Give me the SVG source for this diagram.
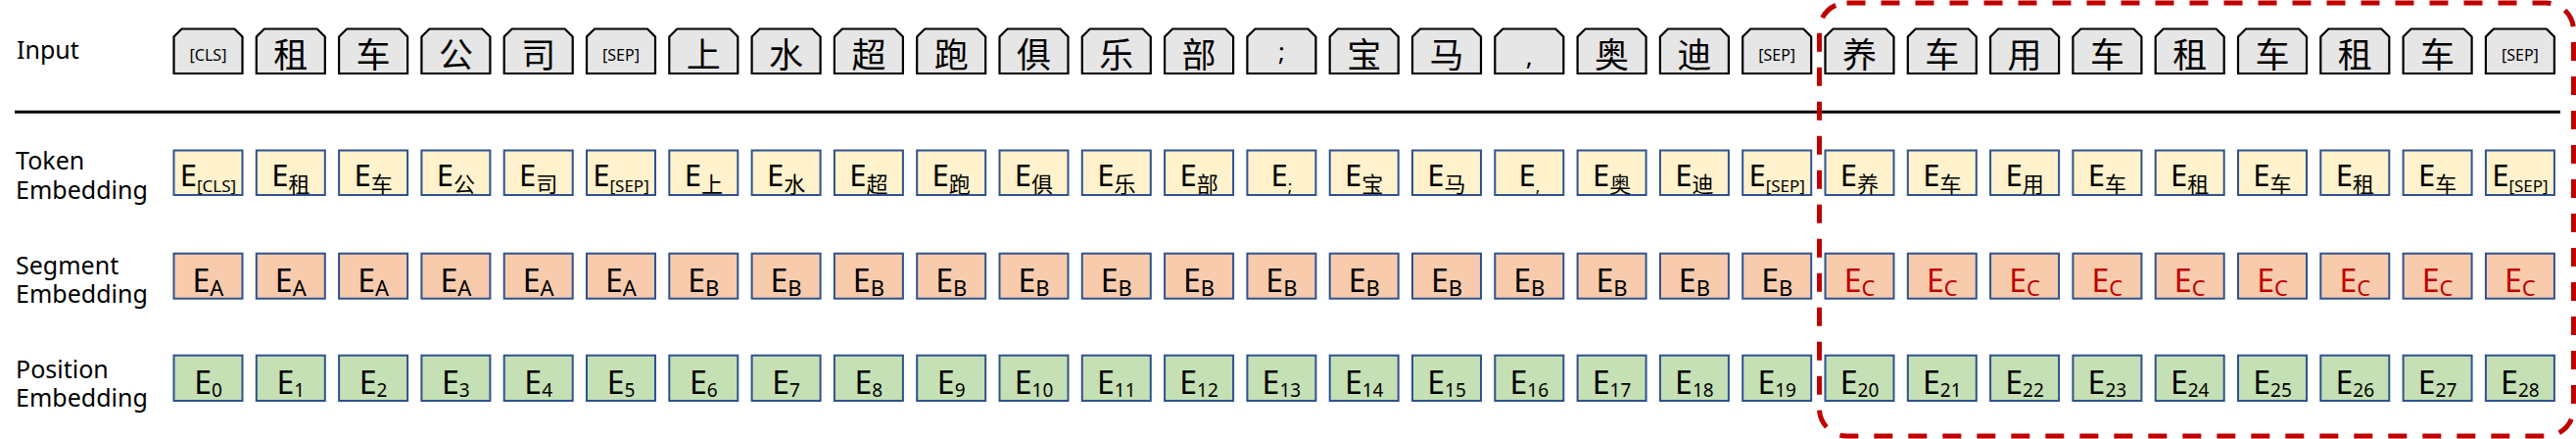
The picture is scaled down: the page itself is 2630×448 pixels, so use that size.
<svg xmlns="http://www.w3.org/2000/svg" xmlns:xlink="http://www.w3.org/1999/xlink" width="2630" height="448" viewBox="0 0 2630 448">
<style>
.lbl{font-family:"Noto Sans","Liberation Sans",sans-serif;font-size:25px;fill:#000}
.in{fill:#E7E6E6;stroke:#000;stroke-width:2.2;stroke-linejoin:miter}
.tok{fill:#FFF2CC;stroke:#2F528F;stroke-width:2}
.seg{fill:#F8CBAD;stroke:#2F528F;stroke-width:2}
.pos{fill:#C5E0B4;stroke:#2F528F;stroke-width:2}
.ch{font-family:"Noto Sans CJK SC","Noto Sans",sans-serif;font-size:35px;text-anchor:middle;fill:#000}
.tag{font-family:"Noto Sans","Liberation Sans",sans-serif;font-size:16px;text-anchor:middle;fill:#000}
.pu{font-family:"Noto Sans","Liberation Sans",sans-serif;font-size:26px;text-anchor:middle;fill:#000}
.e{font-family:"Noto Sans","Noto Sans CJK SC",sans-serif;font-size:31px;text-anchor:middle;fill:#000}
.e2{font-size:32px}
.s1{font-size:17px}
.sk{font-family:"Noto Sans CJK SC","Noto Sans",sans-serif;font-size:22px}
.sl{font-size:22px}
.sd{font-size:19px}
.red{fill:#C00000}
.sep{stroke:#000;stroke-width:3}
.box{fill:none;stroke:#C00000;stroke-width:5;stroke-dasharray:19 16}
</style>
<defs>
<path id="chip" class="in" d="M0,75 V37.5 L8,29.5 H62 L70,37.5 V75 Z"/>
</defs>

<g id="labels">
<text class="lbl" x="17" y="60">Input</text>
<text class="lbl" x="16" y="173">Token</text>
<text class="lbl" x="16" y="203">Embedding</text>
<text class="lbl" x="16" y="280">Segment</text>
<text class="lbl" x="16" y="309">Embedding</text>
<text class="lbl" x="16" y="386">Position</text>
<text class="lbl" x="16" y="415">Embedding</text>
</g>

<g id="connectors">
<line class="sep" x1="15" y1="114.3" x2="2614" y2="114.3"/>
<rect id="focus" class="box" x="1857.5" y="3" width="770" height="442" rx="28" ry="28"/>
</g>

<g id="input-row">
<g id="in-0" transform="translate(177.5 0)"><use href="#chip"/><text class="tag" x="35" y="62">[CLS]</text></g>
<g id="in-1" transform="translate(261.8 0)"><use href="#chip"/><text class="ch" x="35" y="69">租</text></g>
<g id="in-2" transform="translate(346.1 0)"><use href="#chip"/><text class="ch" x="35" y="69">车</text></g>
<g id="in-3" transform="translate(430.4 0)"><use href="#chip"/><text class="ch" x="35" y="69">公</text></g>
<g id="in-4" transform="translate(514.7 0)"><use href="#chip"/><text class="ch" x="35" y="69">司</text></g>
<g id="in-5" transform="translate(599 0)"><use href="#chip"/><text class="tag" x="35" y="62">[SEP]</text></g>
<g id="in-6" transform="translate(683.3 0)"><use href="#chip"/><text class="ch" x="35" y="69">上</text></g>
<g id="in-7" transform="translate(767.6 0)"><use href="#chip"/><text class="ch" x="35" y="69">水</text></g>
<g id="in-8" transform="translate(851.9 0)"><use href="#chip"/><text class="ch" x="35" y="69">超</text></g>
<g id="in-9" transform="translate(936.2 0)"><use href="#chip"/><text class="ch" x="35" y="69">跑</text></g>
<g id="in-10" transform="translate(1020.5 0)"><use href="#chip"/><text class="ch" x="35" y="69">俱</text></g>
<g id="in-11" transform="translate(1104.8 0)"><use href="#chip"/><text class="ch" x="35" y="69">乐</text></g>
<g id="in-12" transform="translate(1189.1 0)"><use href="#chip"/><text class="ch" x="35" y="69">部</text></g>
<g id="in-13" transform="translate(1273.4 0)"><use href="#chip"/><text class="pu" x="35" y="62">;</text></g>
<g id="in-14" transform="translate(1357.7 0)"><use href="#chip"/><text class="ch" x="35" y="69">宝</text></g>
<g id="in-15" transform="translate(1442 0)"><use href="#chip"/><text class="ch" x="35" y="69">马</text></g>
<g id="in-16" transform="translate(1526.3 0)"><use href="#chip"/><text class="pu" x="35" y="67">,</text></g>
<g id="in-17" transform="translate(1610.6 0)"><use href="#chip"/><text class="ch" x="35" y="69">奥</text></g>
<g id="in-18" transform="translate(1694.9 0)"><use href="#chip"/><text class="ch" x="35" y="69">迪</text></g>
<g id="in-19" transform="translate(1779.2 0)"><use href="#chip"/><text class="tag" x="35" y="62">[SEP]</text></g>
<g id="in-20" transform="translate(1863.5 0)"><use href="#chip"/><text class="ch" x="35" y="69">养</text></g>
<g id="in-21" transform="translate(1947.8 0)"><use href="#chip"/><text class="ch" x="35" y="69">车</text></g>
<g id="in-22" transform="translate(2032.1 0)"><use href="#chip"/><text class="ch" x="35" y="69">用</text></g>
<g id="in-23" transform="translate(2116.4 0)"><use href="#chip"/><text class="ch" x="35" y="69">车</text></g>
<g id="in-24" transform="translate(2200.7 0)"><use href="#chip"/><text class="ch" x="35" y="69">租</text></g>
<g id="in-25" transform="translate(2285 0)"><use href="#chip"/><text class="ch" x="35" y="69">车</text></g>
<g id="in-26" transform="translate(2369.3 0)"><use href="#chip"/><text class="ch" x="35" y="69">租</text></g>
<g id="in-27" transform="translate(2453.6 0)"><use href="#chip"/><text class="ch" x="35" y="69">车</text></g>
<g id="in-28" transform="translate(2537.9 0)"><use href="#chip"/><text class="tag" x="35" y="62">[SEP]</text></g>
</g>

<g id="token-row">
<g id="tok-0" transform="translate(177.5 0)"><rect class="tok" y="153.5" width="70" height="45.5"/><text class="e" x="35" y="190">E<tspan class="s1" dy="6">[CLS]</tspan></text></g>
<g id="tok-1" transform="translate(261.8 0)"><rect class="tok" y="153.5" width="70" height="45.5"/><text class="e" x="35" y="190">E<tspan class="sk" dy="6">租</tspan></text></g>
<g id="tok-2" transform="translate(346.1 0)"><rect class="tok" y="153.5" width="70" height="45.5"/><text class="e" x="35" y="190">E<tspan class="sk" dy="6">车</tspan></text></g>
<g id="tok-3" transform="translate(430.4 0)"><rect class="tok" y="153.5" width="70" height="45.5"/><text class="e" x="35" y="190">E<tspan class="sk" dy="6">公</tspan></text></g>
<g id="tok-4" transform="translate(514.7 0)"><rect class="tok" y="153.5" width="70" height="45.5"/><text class="e" x="35" y="190">E<tspan class="sk" dy="6">司</tspan></text></g>
<g id="tok-5" transform="translate(599 0)"><rect class="tok" y="153.5" width="70" height="45.5"/><text class="e" x="35" y="190">E<tspan class="s1" dy="6">[SEP]</tspan></text></g>
<g id="tok-6" transform="translate(683.3 0)"><rect class="tok" y="153.5" width="70" height="45.5"/><text class="e" x="35" y="190">E<tspan class="sk" dy="6">上</tspan></text></g>
<g id="tok-7" transform="translate(767.6 0)"><rect class="tok" y="153.5" width="70" height="45.5"/><text class="e" x="35" y="190">E<tspan class="sk" dy="6">水</tspan></text></g>
<g id="tok-8" transform="translate(851.9 0)"><rect class="tok" y="153.5" width="70" height="45.5"/><text class="e" x="35" y="190">E<tspan class="sk" dy="6">超</tspan></text></g>
<g id="tok-9" transform="translate(936.2 0)"><rect class="tok" y="153.5" width="70" height="45.5"/><text class="e" x="35" y="190">E<tspan class="sk" dy="6">跑</tspan></text></g>
<g id="tok-10" transform="translate(1020.5 0)"><rect class="tok" y="153.5" width="70" height="45.5"/><text class="e" x="35" y="190">E<tspan class="sk" dy="6">俱</tspan></text></g>
<g id="tok-11" transform="translate(1104.8 0)"><rect class="tok" y="153.5" width="70" height="45.5"/><text class="e" x="35" y="190">E<tspan class="sk" dy="6">乐</tspan></text></g>
<g id="tok-12" transform="translate(1189.1 0)"><rect class="tok" y="153.5" width="70" height="45.5"/><text class="e" x="35" y="190">E<tspan class="sk" dy="6">部</tspan></text></g>
<g id="tok-13" transform="translate(1273.4 0)"><rect class="tok" y="153.5" width="70" height="45.5"/><text class="e" x="35" y="190">E<tspan class="s1" dy="6">;</tspan></text></g>
<g id="tok-14" transform="translate(1357.7 0)"><rect class="tok" y="153.5" width="70" height="45.5"/><text class="e" x="35" y="190">E<tspan class="sk" dy="6">宝</tspan></text></g>
<g id="tok-15" transform="translate(1442 0)"><rect class="tok" y="153.5" width="70" height="45.5"/><text class="e" x="35" y="190">E<tspan class="sk" dy="6">马</tspan></text></g>
<g id="tok-16" transform="translate(1526.3 0)"><rect class="tok" y="153.5" width="70" height="45.5"/><text class="e" x="35" y="190">E<tspan class="s1" dy="6">,</tspan></text></g>
<g id="tok-17" transform="translate(1610.6 0)"><rect class="tok" y="153.5" width="70" height="45.5"/><text class="e" x="35" y="190">E<tspan class="sk" dy="6">奥</tspan></text></g>
<g id="tok-18" transform="translate(1694.9 0)"><rect class="tok" y="153.5" width="70" height="45.5"/><text class="e" x="35" y="190">E<tspan class="sk" dy="6">迪</tspan></text></g>
<g id="tok-19" transform="translate(1779.2 0)"><rect class="tok" y="153.5" width="70" height="45.5"/><text class="e" x="35" y="190">E<tspan class="s1" dy="6">[SEP]</tspan></text></g>
<g id="tok-20" transform="translate(1863.5 0)"><rect class="tok" y="153.5" width="70" height="45.5"/><text class="e" x="35" y="190">E<tspan class="sk" dy="6">养</tspan></text></g>
<g id="tok-21" transform="translate(1947.8 0)"><rect class="tok" y="153.5" width="70" height="45.5"/><text class="e" x="35" y="190">E<tspan class="sk" dy="6">车</tspan></text></g>
<g id="tok-22" transform="translate(2032.1 0)"><rect class="tok" y="153.5" width="70" height="45.5"/><text class="e" x="35" y="190">E<tspan class="sk" dy="6">用</tspan></text></g>
<g id="tok-23" transform="translate(2116.4 0)"><rect class="tok" y="153.5" width="70" height="45.5"/><text class="e" x="35" y="190">E<tspan class="sk" dy="6">车</tspan></text></g>
<g id="tok-24" transform="translate(2200.7 0)"><rect class="tok" y="153.5" width="70" height="45.5"/><text class="e" x="35" y="190">E<tspan class="sk" dy="6">租</tspan></text></g>
<g id="tok-25" transform="translate(2285 0)"><rect class="tok" y="153.5" width="70" height="45.5"/><text class="e" x="35" y="190">E<tspan class="sk" dy="6">车</tspan></text></g>
<g id="tok-26" transform="translate(2369.3 0)"><rect class="tok" y="153.5" width="70" height="45.5"/><text class="e" x="35" y="190">E<tspan class="sk" dy="6">租</tspan></text></g>
<g id="tok-27" transform="translate(2453.6 0)"><rect class="tok" y="153.5" width="70" height="45.5"/><text class="e" x="35" y="190">E<tspan class="sk" dy="6">车</tspan></text></g>
<g id="tok-28" transform="translate(2537.9 0)"><rect class="tok" y="153.5" width="70" height="45.5"/><text class="e" x="35" y="190">E<tspan class="s1" dy="6">[SEP]</tspan></text></g>
</g>

<g id="segment-row">
<g id="seg-0" transform="translate(177.5 0)"><rect class="seg" y="258.7" width="70" height="46"/><text class="e e2" x="35" y="297.5">E<tspan class="sl" dy="4">A</tspan></text></g>
<g id="seg-1" transform="translate(261.8 0)"><rect class="seg" y="258.7" width="70" height="46"/><text class="e e2" x="35" y="297.5">E<tspan class="sl" dy="4">A</tspan></text></g>
<g id="seg-2" transform="translate(346.1 0)"><rect class="seg" y="258.7" width="70" height="46"/><text class="e e2" x="35" y="297.5">E<tspan class="sl" dy="4">A</tspan></text></g>
<g id="seg-3" transform="translate(430.4 0)"><rect class="seg" y="258.7" width="70" height="46"/><text class="e e2" x="35" y="297.5">E<tspan class="sl" dy="4">A</tspan></text></g>
<g id="seg-4" transform="translate(514.7 0)"><rect class="seg" y="258.7" width="70" height="46"/><text class="e e2" x="35" y="297.5">E<tspan class="sl" dy="4">A</tspan></text></g>
<g id="seg-5" transform="translate(599 0)"><rect class="seg" y="258.7" width="70" height="46"/><text class="e e2" x="35" y="297.5">E<tspan class="sl" dy="4">A</tspan></text></g>
<g id="seg-6" transform="translate(683.3 0)"><rect class="seg" y="258.7" width="70" height="46"/><text class="e e2" x="35" y="297.5">E<tspan class="sl" dy="4">B</tspan></text></g>
<g id="seg-7" transform="translate(767.6 0)"><rect class="seg" y="258.7" width="70" height="46"/><text class="e e2" x="35" y="297.5">E<tspan class="sl" dy="4">B</tspan></text></g>
<g id="seg-8" transform="translate(851.9 0)"><rect class="seg" y="258.7" width="70" height="46"/><text class="e e2" x="35" y="297.5">E<tspan class="sl" dy="4">B</tspan></text></g>
<g id="seg-9" transform="translate(936.2 0)"><rect class="seg" y="258.7" width="70" height="46"/><text class="e e2" x="35" y="297.5">E<tspan class="sl" dy="4">B</tspan></text></g>
<g id="seg-10" transform="translate(1020.5 0)"><rect class="seg" y="258.7" width="70" height="46"/><text class="e e2" x="35" y="297.5">E<tspan class="sl" dy="4">B</tspan></text></g>
<g id="seg-11" transform="translate(1104.8 0)"><rect class="seg" y="258.7" width="70" height="46"/><text class="e e2" x="35" y="297.5">E<tspan class="sl" dy="4">B</tspan></text></g>
<g id="seg-12" transform="translate(1189.1 0)"><rect class="seg" y="258.7" width="70" height="46"/><text class="e e2" x="35" y="297.5">E<tspan class="sl" dy="4">B</tspan></text></g>
<g id="seg-13" transform="translate(1273.4 0)"><rect class="seg" y="258.7" width="70" height="46"/><text class="e e2" x="35" y="297.5">E<tspan class="sl" dy="4">B</tspan></text></g>
<g id="seg-14" transform="translate(1357.7 0)"><rect class="seg" y="258.7" width="70" height="46"/><text class="e e2" x="35" y="297.5">E<tspan class="sl" dy="4">B</tspan></text></g>
<g id="seg-15" transform="translate(1442 0)"><rect class="seg" y="258.7" width="70" height="46"/><text class="e e2" x="35" y="297.5">E<tspan class="sl" dy="4">B</tspan></text></g>
<g id="seg-16" transform="translate(1526.3 0)"><rect class="seg" y="258.7" width="70" height="46"/><text class="e e2" x="35" y="297.5">E<tspan class="sl" dy="4">B</tspan></text></g>
<g id="seg-17" transform="translate(1610.6 0)"><rect class="seg" y="258.7" width="70" height="46"/><text class="e e2" x="35" y="297.5">E<tspan class="sl" dy="4">B</tspan></text></g>
<g id="seg-18" transform="translate(1694.9 0)"><rect class="seg" y="258.7" width="70" height="46"/><text class="e e2" x="35" y="297.5">E<tspan class="sl" dy="4">B</tspan></text></g>
<g id="seg-19" transform="translate(1779.2 0)"><rect class="seg" y="258.7" width="70" height="46"/><text class="e e2" x="35" y="297.5">E<tspan class="sl" dy="4">B</tspan></text></g>
<g id="seg-20" transform="translate(1863.5 0)"><rect class="seg" y="258.7" width="70" height="46"/><text class="e e2 red" x="35" y="297.5">E<tspan class="sl" dy="4">C</tspan></text></g>
<g id="seg-21" transform="translate(1947.8 0)"><rect class="seg" y="258.7" width="70" height="46"/><text class="e e2 red" x="35" y="297.5">E<tspan class="sl" dy="4">C</tspan></text></g>
<g id="seg-22" transform="translate(2032.1 0)"><rect class="seg" y="258.7" width="70" height="46"/><text class="e e2 red" x="35" y="297.5">E<tspan class="sl" dy="4">C</tspan></text></g>
<g id="seg-23" transform="translate(2116.4 0)"><rect class="seg" y="258.7" width="70" height="46"/><text class="e e2 red" x="35" y="297.5">E<tspan class="sl" dy="4">C</tspan></text></g>
<g id="seg-24" transform="translate(2200.7 0)"><rect class="seg" y="258.7" width="70" height="46"/><text class="e e2 red" x="35" y="297.5">E<tspan class="sl" dy="4">C</tspan></text></g>
<g id="seg-25" transform="translate(2285 0)"><rect class="seg" y="258.7" width="70" height="46"/><text class="e e2 red" x="35" y="297.5">E<tspan class="sl" dy="4">C</tspan></text></g>
<g id="seg-26" transform="translate(2369.3 0)"><rect class="seg" y="258.7" width="70" height="46"/><text class="e e2 red" x="35" y="297.5">E<tspan class="sl" dy="4">C</tspan></text></g>
<g id="seg-27" transform="translate(2453.6 0)"><rect class="seg" y="258.7" width="70" height="46"/><text class="e e2 red" x="35" y="297.5">E<tspan class="sl" dy="4">C</tspan></text></g>
<g id="seg-28" transform="translate(2537.9 0)"><rect class="seg" y="258.7" width="70" height="46"/><text class="e e2 red" x="35" y="297.5">E<tspan class="sl" dy="4">C</tspan></text></g>
</g>

<g id="position-row">
<g id="pos-0" transform="translate(177.5 0)"><rect class="pos" y="362.7" width="70" height="46.3"/><text class="e e2" x="35" y="401.5">E<tspan class="sd" dy="3">0</tspan></text></g>
<g id="pos-1" transform="translate(261.8 0)"><rect class="pos" y="362.7" width="70" height="46.3"/><text class="e e2" x="35" y="401.5">E<tspan class="sd" dy="3">1</tspan></text></g>
<g id="pos-2" transform="translate(346.1 0)"><rect class="pos" y="362.7" width="70" height="46.3"/><text class="e e2" x="35" y="401.5">E<tspan class="sd" dy="3">2</tspan></text></g>
<g id="pos-3" transform="translate(430.4 0)"><rect class="pos" y="362.7" width="70" height="46.3"/><text class="e e2" x="35" y="401.5">E<tspan class="sd" dy="3">3</tspan></text></g>
<g id="pos-4" transform="translate(514.7 0)"><rect class="pos" y="362.7" width="70" height="46.3"/><text class="e e2" x="35" y="401.5">E<tspan class="sd" dy="3">4</tspan></text></g>
<g id="pos-5" transform="translate(599 0)"><rect class="pos" y="362.7" width="70" height="46.3"/><text class="e e2" x="35" y="401.5">E<tspan class="sd" dy="3">5</tspan></text></g>
<g id="pos-6" transform="translate(683.3 0)"><rect class="pos" y="362.7" width="70" height="46.3"/><text class="e e2" x="35" y="401.5">E<tspan class="sd" dy="3">6</tspan></text></g>
<g id="pos-7" transform="translate(767.6 0)"><rect class="pos" y="362.7" width="70" height="46.3"/><text class="e e2" x="35" y="401.5">E<tspan class="sd" dy="3">7</tspan></text></g>
<g id="pos-8" transform="translate(851.9 0)"><rect class="pos" y="362.7" width="70" height="46.3"/><text class="e e2" x="35" y="401.5">E<tspan class="sd" dy="3">8</tspan></text></g>
<g id="pos-9" transform="translate(936.2 0)"><rect class="pos" y="362.7" width="70" height="46.3"/><text class="e e2" x="35" y="401.5">E<tspan class="sd" dy="3">9</tspan></text></g>
<g id="pos-10" transform="translate(1020.5 0)"><rect class="pos" y="362.7" width="70" height="46.3"/><text class="e e2" x="35" y="401.5">E<tspan class="sd" dy="3">10</tspan></text></g>
<g id="pos-11" transform="translate(1104.8 0)"><rect class="pos" y="362.7" width="70" height="46.3"/><text class="e e2" x="35" y="401.5">E<tspan class="sd" dy="3">11</tspan></text></g>
<g id="pos-12" transform="translate(1189.1 0)"><rect class="pos" y="362.7" width="70" height="46.3"/><text class="e e2" x="35" y="401.5">E<tspan class="sd" dy="3">12</tspan></text></g>
<g id="pos-13" transform="translate(1273.4 0)"><rect class="pos" y="362.7" width="70" height="46.3"/><text class="e e2" x="35" y="401.5">E<tspan class="sd" dy="3">13</tspan></text></g>
<g id="pos-14" transform="translate(1357.7 0)"><rect class="pos" y="362.7" width="70" height="46.3"/><text class="e e2" x="35" y="401.5">E<tspan class="sd" dy="3">14</tspan></text></g>
<g id="pos-15" transform="translate(1442 0)"><rect class="pos" y="362.7" width="70" height="46.3"/><text class="e e2" x="35" y="401.5">E<tspan class="sd" dy="3">15</tspan></text></g>
<g id="pos-16" transform="translate(1526.3 0)"><rect class="pos" y="362.7" width="70" height="46.3"/><text class="e e2" x="35" y="401.5">E<tspan class="sd" dy="3">16</tspan></text></g>
<g id="pos-17" transform="translate(1610.6 0)"><rect class="pos" y="362.7" width="70" height="46.3"/><text class="e e2" x="35" y="401.5">E<tspan class="sd" dy="3">17</tspan></text></g>
<g id="pos-18" transform="translate(1694.9 0)"><rect class="pos" y="362.7" width="70" height="46.3"/><text class="e e2" x="35" y="401.5">E<tspan class="sd" dy="3">18</tspan></text></g>
<g id="pos-19" transform="translate(1779.2 0)"><rect class="pos" y="362.7" width="70" height="46.3"/><text class="e e2" x="35" y="401.5">E<tspan class="sd" dy="3">19</tspan></text></g>
<g id="pos-20" transform="translate(1863.5 0)"><rect class="pos" y="362.7" width="70" height="46.3"/><text class="e e2" x="35" y="401.5">E<tspan class="sd" dy="3">20</tspan></text></g>
<g id="pos-21" transform="translate(1947.8 0)"><rect class="pos" y="362.7" width="70" height="46.3"/><text class="e e2" x="35" y="401.5">E<tspan class="sd" dy="3">21</tspan></text></g>
<g id="pos-22" transform="translate(2032.1 0)"><rect class="pos" y="362.7" width="70" height="46.3"/><text class="e e2" x="35" y="401.5">E<tspan class="sd" dy="3">22</tspan></text></g>
<g id="pos-23" transform="translate(2116.4 0)"><rect class="pos" y="362.7" width="70" height="46.3"/><text class="e e2" x="35" y="401.5">E<tspan class="sd" dy="3">23</tspan></text></g>
<g id="pos-24" transform="translate(2200.7 0)"><rect class="pos" y="362.7" width="70" height="46.3"/><text class="e e2" x="35" y="401.5">E<tspan class="sd" dy="3">24</tspan></text></g>
<g id="pos-25" transform="translate(2285 0)"><rect class="pos" y="362.7" width="70" height="46.3"/><text class="e e2" x="35" y="401.5">E<tspan class="sd" dy="3">25</tspan></text></g>
<g id="pos-26" transform="translate(2369.3 0)"><rect class="pos" y="362.7" width="70" height="46.3"/><text class="e e2" x="35" y="401.5">E<tspan class="sd" dy="3">26</tspan></text></g>
<g id="pos-27" transform="translate(2453.6 0)"><rect class="pos" y="362.7" width="70" height="46.3"/><text class="e e2" x="35" y="401.5">E<tspan class="sd" dy="3">27</tspan></text></g>
<g id="pos-28" transform="translate(2537.9 0)"><rect class="pos" y="362.7" width="70" height="46.3"/><text class="e e2" x="35" y="401.5">E<tspan class="sd" dy="3">28</tspan></text></g>
</g>
</svg>
